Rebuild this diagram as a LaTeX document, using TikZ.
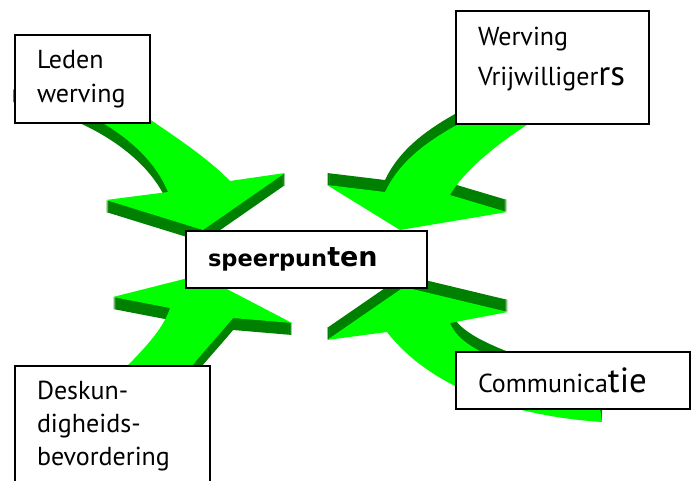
\documentclass[tikz,border=0pt]{standalone}
\usepackage{fontspec}
\setmainfont{PT Sans}
\newfontfamily\dejavu{DejaVu Sans}
\usepackage{tikz}
\usetikzlibrary{positioning}

\definecolor{arrowlight}{RGB}{0,255,0}
\definecolor{arrowdark}{RGB}{0,128,0}

\newcommand{\groot}[1]{{\fontsize{35}{40}\selectfont #1}}

\begin{document}
\begin{tikzpicture}[x=1pt, y=-1pt,
	box/.style={
		rectangle, draw, line width=1.8pt, fill=white,
		align=left, inner xsep=22pt, inner ysep=0pt,
		font=\fontsize{26}{34}\selectfont
	},
	face/.style={fill=arrowlight},
	side/.style={fill=arrowdark},
	% the four bent arrows, top face only
	arrowleden/.style={insert path={
		(13,90) .. controls (70,100) and (145,135) .. (168,192)
		-- (106,200) -- (203,230) -- (285,173) -- (230,181)
		.. controls (200,150) and (150,120) .. (45,50) -- cycle}},
	arrowwerving/.style={insert path={
		(327,185) -- (385,192) .. controls (405,150) and (450,125) .. (520,95)
		-- (570,100) .. controls (530,120) and (470,160) .. (450,195)
		-- (507,212) -- (400,230) -- cycle}},
	arrowdeskun/.style={insert path={
		(200,275) -- (292,323) -- (233,318)
		.. controls (215,340) and (190,365) .. (150,420)
		-- (80,415) .. controls (120,370) and (160,340) .. (170,308)
		-- (113,297) -- cycle}},
	arrowcomm/.style={insert path={
		(404,287) -- (508,312) -- (450,323)
		.. controls (458,342) and (480,360) .. (598,392)
		-- (602,422) .. controls (540,418) and (440,400) .. (387,332)
		-- (327,340) -- cycle}},
	]

	\useasboundingbox (0,0) rectangle (695,481);

	%arrows: dark side first, then the face
	\foreach \s in {1,...,12} {
		\fill[side, shift={(0,\s)}, arrowleden];
		\fill[side, shift={(0,-\s)}, arrowwerving];
		\fill[side, shift={(0,\s)}, arrowdeskun];
		\fill[side, shift={(0,-\s)}, arrowcomm];
	}
	\fill[face, arrowleden];
	\fill[face, arrowwerving];
	\fill[face, arrowdeskun];
	\fill[face, arrowcomm];

	%boxes
	\node[box, minimum width=135pt, minimum height=88pt, text width=91pt] (leden) at (82.5,79) {Leden\\werving};

	\node[box, minimum width=193pt, minimum height=113pt, text width=149pt] (vrijwilligers) at (552.5,67.5) {Werving\\[6pt]Vrijwilliger\groot{rs}\rule[-23pt]{0pt}{0pt}};

	\node[box, minimum width=241pt, minimum height=57pt, text width=197pt, font=\dejavu\bfseries\fontsize{22.5}{34}\selectfont] (speerpunten) at (306.5,259.5) {speerpun{\fontsize{27}{34}\selectfont ten}};

	\node[box, minimum width=195pt, minimum height=120pt, text width=151pt, font=\fontsize{26}{33}\selectfont] (deskundigheid) at (112.5,426) {Deskun-\\digheids-\\bevordering};

	\node[box, minimum width=234pt, minimum height=57pt, text width=190pt] (communicatie) at (573,380.5) {Communica\groot{tie}};
\end{tikzpicture}
\end{document}
